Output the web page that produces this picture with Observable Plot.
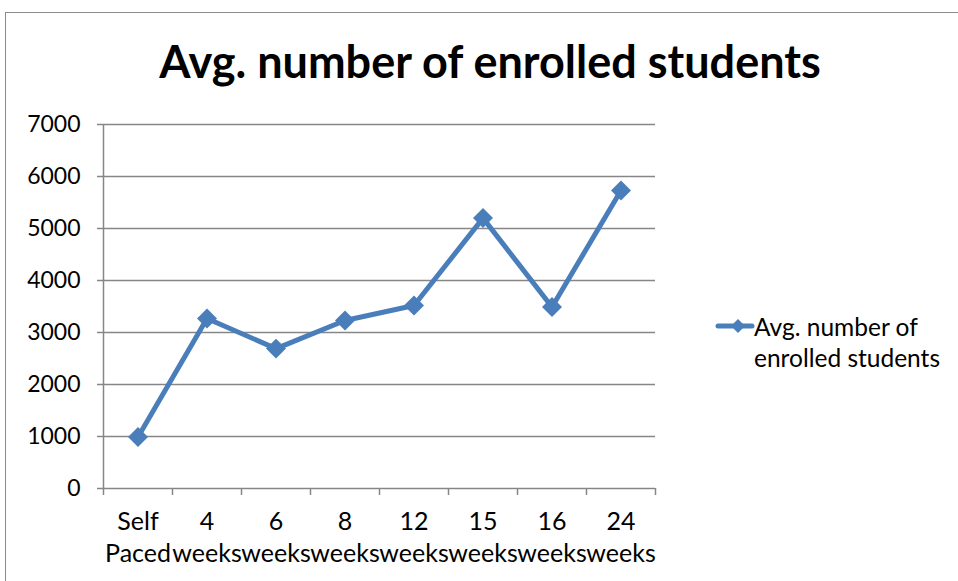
<!DOCTYPE html>
<html>
<head>
<meta charset="utf-8">
<script src="https://cdn.jsdelivr.net/npm/d3@7"></script>
<script src="https://cdn.jsdelivr.net/npm/@observablehq/plot@0.6"></script>
<style>
  body { margin: 0; background: #fff; font-family: Lato, "Open Sans", sans-serif; }
  #wrap { position: relative; width: 958px; height: 581px; overflow: hidden; }
  #frame { position: absolute; left: 5px; top: 12px; width: 1000px; height: 600px; border: 1.5px solid #8c8c8c; box-sizing: border-box; }
  #title { position: absolute; left: 0; top: 34px; width: 980px; text-align: center; font-weight: 700; font-size: 45px; color: #000; }
  #legend { position: absolute; left: 718px; top: 311px; font-size: 24.5px; line-height: 31px; color: #000; }
  #plot { position: absolute; left: 0; top: 0; }
</style>
</head>
<body>
<div id="wrap">
  <div id="frame"></div>
  <div id="plot"></div>
  <div id="title">Avg. number of enrolled students</div>
</div>
<script>
const categories = ["Self Paced", "4 weeks", "6 weeks", "8 weeks", "12 weeks", "15 weeks", "16 weeks", "24 weeks"];
const tickLines = [["Self", "Paced"], ["4", "weeks"], ["6", "weeks"], ["8", "weeks"], ["12", "weeks"], ["15", "weeks"], ["16", "weeks"], ["24", "weeks"]];
const values = [990, 3270, 2690, 3230, 3520, 5200, 3490, 5730];
const yTicks = [0, 1000, 2000, 3000, 4000, 5000, 6000, 7000];
const seriesName = "Avg. number of enrolled students";

const data = categories.map((c, i) => ({cat: c, i: i + 0.5, v: values[i], label: tickLines[i].join("\n")}));
const bounds = d3.range(categories.length + 1);
const blue = "#4a7ebb";
const grid = "#868686";

const chart = Plot.plot({
  width: 958,
  height: 581,
  marginLeft: 103,
  marginRight: 303,
  marginTop: 124,
  marginBottom: 93,
  style: {fontFamily: "Lato, 'Open Sans', sans-serif", fontSize: "23px", color: "#000", background: "transparent"},
  x: {type: "linear", domain: [0, categories.length], axis: null, label: null},
  y: {type: "linear", domain: [0, 7000], axis: null, label: null},
  marks: [
    Plot.ruleY(yTicks, {stroke: grid, strokeWidth: 1.5, strokeOpacity: 1}),
    Plot.ruleX([0], {stroke: grid, strokeWidth: 1.5, strokeOpacity: 1}),
    Plot.axisY({ticks: yTicks, tickSize: 6, tickFormat: d => String(d), stroke: grid, strokeWidth: 1.5, strokeOpacity: 1, tickPadding: 17, fill: "#000", fontSize: 23, label: null}),
    Plot.axisX({ticks: bounds, tickSize: 7, tickFormat: () => "", stroke: grid, strokeWidth: 1.5, strokeOpacity: 1, label: null}),
    Plot.text(data, {x: "i", y: 0, text: "label", dy: 47, lineHeight: 1.28, fill: "#000", fontSize: 25, textAnchor: "middle"}),
    Plot.line(data, {x: "i", y: "v", stroke: blue, strokeWidth: 5, strokeLinejoin: "miter"}),
    Plot.dot(data, {x: "i", y: "v", symbol: "diamond2", r: 9, fill: blue, stroke: "none"})
  ]
});
document.getElementById("plot").appendChild(chart);

const legend = document.createElement("div");
legend.id = "legend";
legend.innerHTML = `<svg width="36" height="20" style="position:absolute;left:0;top:6px;overflow:visible">
  <line x1="0" y1="9" x2="34" y2="9" stroke="${blue}" stroke-width="5" stroke-linecap="round"/>
  <path d="M20,2 L27,9 L20,16 L13,9 Z" fill="${blue}"/></svg>
  <div style="position:absolute;left:36px;top:0;white-space:nowrap">${"Avg. number of"}<br>${"enrolled students"}</div>`;
document.getElementById("wrap").appendChild(legend);
</script>
</body>
</html>
